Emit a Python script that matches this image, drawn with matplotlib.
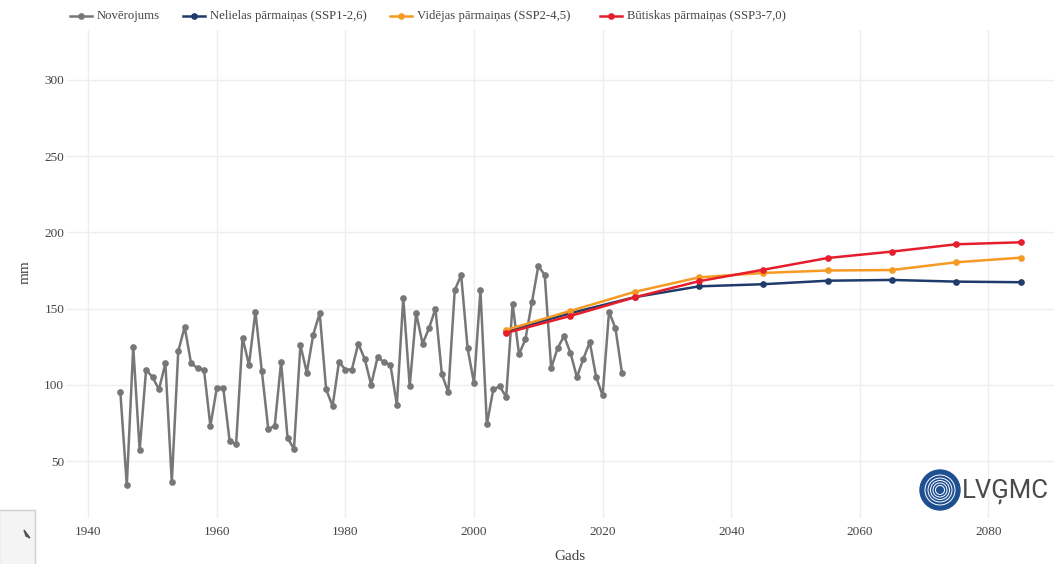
import numpy as np
import matplotlib.pyplot as plt
from matplotlib.patches import Circle, Rectangle, Polygon

# observed yearly values, mm
obs_years = list(range(1945, 2024))
obs_vals = [95, 34, 125, 57, 110, 105, 97, 114, 36, 122,
            138, 114, 111, 110, 73, 98, 98, 63, 61, 131,
            113, 148, 109, 71, 73, 115, 65, 58, 126, 108,
            133, 147, 97, 86, 115, 110, 110, 127, 117, 100,
            118, 115, 113, 87, 157, 99, 147, 127, 137, 150,
            107, 95, 162, 172, 124, 101, 162, 74, 97, 99,
            92, 153, 120, 130, 154, 178, 172, 111, 124, 132,
            121, 105, 117, 128, 105, 93, 148, 137, 108]

# scenario projections (decade means)
proj_years = [2005, 2015, 2025, 2035, 2045, 2055, 2065, 2075, 2085]
ssp126 = [135, 147, 157.5, 164.6, 166, 168.3, 168.8, 167.7, 167.3]
ssp245 = [136, 148.5, 161, 170.5, 173.4, 175, 175.3, 180.4, 183.4]
ssp370 = [134, 145.2, 157.4, 168, 175.5, 183.2, 187.4, 192.2, 193.5]

labels = ['Novērojums', 'Nelielas pārmaiņas (SSP1-2,6)',
          'Vidējas pārmaiņas (SSP2-4,5)', 'Būtiskas pārmaiņas (SSP3-7,0)']
colors = ['#777777', '#1f3b6b', '#f59a23', '#e61e2b']

x_ticks = range(1940, 2100, 20)
y_ticks = range(50, 350, 50)

plt.rcParams['font.family'] = ['Liberation Serif', 'DejaVu Serif']

W, H = 1054, 564
fig = plt.figure(figsize=(W / 100, H / 100), dpi=100)
ax = fig.add_axes([67 / W, 46 / H, 1 - 67 / W, 488 / H])

style = dict(lw=1.8, marker='o', markersize=3.8)
ax.plot(obs_years, obs_vals, color=colors[0], **style, zorder=2)
ax.plot(proj_years, ssp126, color=colors[1], **style, zorder=3)
ax.plot(proj_years, ssp245, color=colors[2], **style, zorder=4)
ax.plot(proj_years, ssp370, color=colors[3], **style, zorder=5)

ax.set_xlim(1936.7, 2090.2)
ax.set_ylim(12.6, 332.8)
ax.set_xticks(x_ticks)
ax.set_yticks(y_ticks)
ax.grid(True, color='#eeeeee', lw=1)
ax.set_axisbelow(True)
for s in ax.spines.values():
    s.set_visible(False)
ax.tick_params(length=0, labelsize=9.5, labelcolor='#444444')
ax.tick_params(axis='y', pad=2)
ax.tick_params(axis='x', pad=6)

fig.text(570 / W, 1 - 557 / H, 'Gads', fontsize=11, color='#444444',
         ha='center', va='center')
fig.text(25 / W, 1 - 272 / H, 'mm', fontsize=11, color='#444444',
         ha='center', va='center', rotation=90)

# overlay in pixel units: legend row, logo, corner panel
over = fig.add_axes([0, 0, 1, 1])
over.set_xlim(0, W)
over.set_ylim(H, 0)
over.axis('off')

legend_x = [70, 183, 390, 600]
for x0, lab, c in zip(legend_x, labels, colors):
    over.plot([x0, x0 + 22], [16, 16], color=c, lw=1.8)
    over.plot([x0 + 11], [16], 'o', color=c, markersize=3.8)
    over.text(x0 + 27, 16, lab, fontsize=9.2, color='#444444', va='center', ha='left')

over.add_patch(Circle((940, 490), 20, color='#1d4f91'))
for r in [15, 12, 9.5, 7, 4.5]:
    over.add_patch(Circle((940, 490), r, fill=False, ec='white', lw=0.7))
over.text(962, 491, 'LVĢMC', fontsize=18.5, color='#4a4a4a', va='center',
          ha='left', family='Roboto')
over.add_patch(Rectangle((-1, 510), 36, 56, facecolor='#f4f4f4',
                         edgecolor='#d0d0d0', lw=1))
over.add_patch(Polygon([[24, 530], [30, 538], [26, 536]], closed=True,
                       color='#555555'))

fig.savefig('out.png', dpi=100)
